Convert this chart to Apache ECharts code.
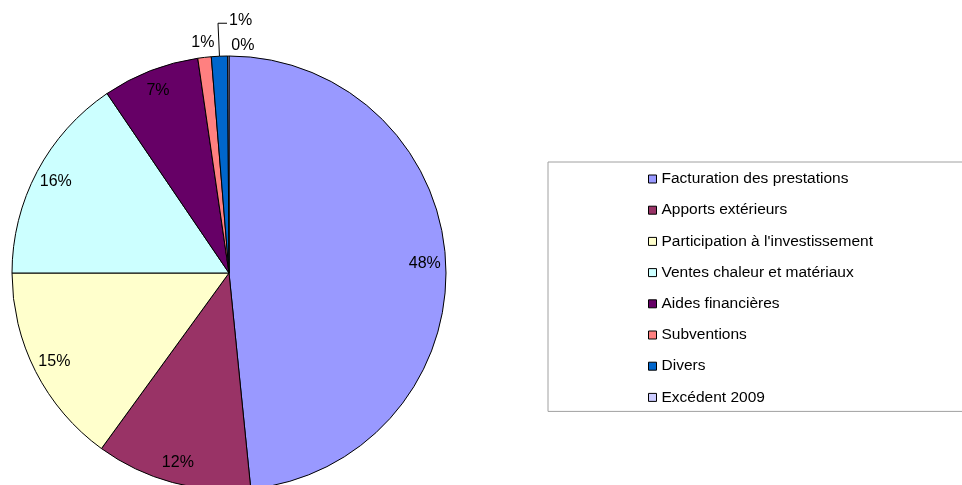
<!DOCTYPE html>
<html>
<head>
<meta charset="utf-8">
<script src="https://cdn.jsdelivr.net/npm/echarts@6/dist/echarts.min.js"></script>
<style>
  html, body { margin: 0; padding: 0; background: #fff; }
  #chart { width: 962px; height: 485px; }
</style>
</head>
<body>
<div id="chart"></div>
<script>
var categories = [
  'Facturation des prestations',
  'Apports extérieurs',
  "Participation à l'investissement",
  'Ventes chaleur et matériaux',
  'Aides financières',
  'Subventions',
  'Divers',
  'Excédent 2009'
];
var values = [48.4, 11.6, 15.0, 15.5, 7.2, 1.0, 1.2, 0.1];
var colors = ['#9999FF', '#993366', '#FFFFCC', '#CCFFFF', '#660066', '#FF8080', '#0066CC', '#CCCCFF'];

var font = 'Liberation Sans, Arial, sans-serif';
var center = [229, 273];
var R = 217;

var chart = echarts.init(document.getElementById('chart'));

var pieData = categories.map(function (name, i) {
  return { name: name, value: values[i], itemStyle: { color: colors[i] } };
});

// labels : à l'intérieur pour les grandes parts, à l'extérieur pour les petites
var labelData = categories.map(function (name, i) {
  var item = { name: name, value: values[i] };
  if (i === 5) {
    item.label = { position: 'outside' };
    item.labelLine = { show: true, length: 15, length2: 0, lineStyle: { color: 'transparent' } };
  } else if (i === 6) {
    item.label = { position: 'outside' };
    item.labelLine = { show: true, length: 33, length2: 0, lineStyle: { color: '#000', width: 1 } };
  } else if (i === 7) {
    item.label = { position: 'outside' };
    item.labelLine = { show: true, length: 10, length2: 0, lineStyle: { color: 'transparent' } };
  }
  return item;
});

chart.setOption({
  animation: false,
  legend: {
    orient: 'vertical',
    left: 548,
    top: 162,
    padding: [9, 200, 6, 100],
    borderColor: '#a0a0a0',
    borderWidth: 1,
    itemWidth: 8,
    itemHeight: 8,
    itemGap: 15.2,
    icon: 'rect',
    selectedMode: false,
    itemStyle: { borderColor: '#000', borderWidth: 1 },
    textStyle: { fontFamily: font, fontSize: 15.5, color: '#000', lineHeight: 15 },
    data: categories
  },
  series: [
    {
      type: 'pie',
      center: center,
      radius: [0, R],
      startAngle: 90,
      clockwise: true,
      silent: true,
      label: { show: false },
      labelLine: { show: false },
      itemStyle: { borderColor: '#000', borderWidth: 1 },
      data: pieData
    },
    {
      type: 'pie',
      center: center,
      radius: [169, R],
      startAngle: 90,
      clockwise: true,
      silent: true,
      avoidLabelOverlap: false,
      legendHoverLink: false,
      itemStyle: { color: 'transparent', borderWidth: 0 },
      label: {
        show: true,
        position: 'inside',
        color: '#000',
        fontFamily: font,
        fontSize: 16,
        formatter: function (p) { return Math.round(p.percent) + '%'; }
      },
      labelLine: { show: false },
      labelLayout: function (p) {
        var pts = p.labelLinePoints;
        if (!pts) return {};
        var a = pts[0], b = pts[1];
        if (p.dataIndex === 5) {
          return { x: b[0], y: b[1], align: 'center', verticalAlign: 'middle' };
        }
        if (p.dataIndex === 6) {
          var c = [b[0] + 9, b[1]];
          return { x: c[0] + 2, y: c[1] - 3, align: 'left', verticalAlign: 'middle', labelLinePoints: [a, b, c] };
        }
        if (p.dataIndex === 7) {
          return { x: b[0] + 3, y: b[1], align: 'left', verticalAlign: 'middle' };
        }
        return {};
      },
      data: labelData
    }
  ]
});
</script>
</body>
</html>
